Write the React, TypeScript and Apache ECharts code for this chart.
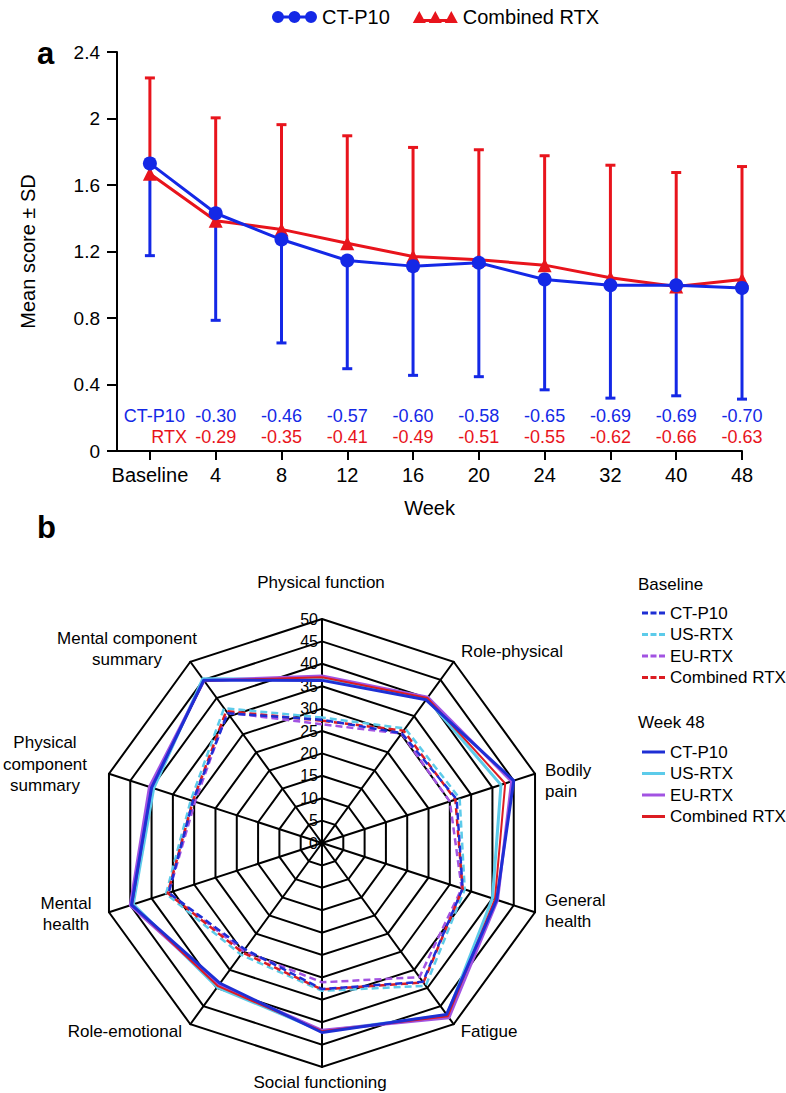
import React, { useEffect, useRef } from 'react';
import * as echarts from 'echarts';

// ---------- Panel a data ----------
const weeks = ['Baseline', '4', '8', '12', '16', '20', '24', '32', '40', '48'];
const ctMean = [1.73, 1.43, 1.272, 1.146, 1.112, 1.132, 1.032, 0.997, 0.997, 0.981];
const ctLower = [1.175, 0.786, 0.65, 0.495, 0.455, 0.447, 0.368, 0.318, 0.332, 0.312];
const rtxMean = [1.668, 1.385, 1.333, 1.25, 1.17, 1.15, 1.118, 1.042, 0.99, 1.032];
const rtxUpper = [2.244, 2.004, 1.963, 1.896, 1.826, 1.812, 1.776, 1.719, 1.675, 1.711];
const ctChange = ['-0.30', '-0.46', '-0.57', '-0.60', '-0.58', '-0.65', '-0.69', '-0.69', '-0.70'];
const rtxChange = ['-0.29', '-0.35', '-0.41', '-0.49', '-0.51', '-0.55', '-0.62', '-0.66', '-0.63'];

// ---------- Panel b data (clockwise from top) ----------
const domains = [
  'Physical function', 'Role-physical', 'Bodily\npain', 'General\nhealth', 'Fatigue',
  'Social functioning', 'Role-emotional', 'Mental\nhealth', 'Physical\ncomponent\nsummary',
  'Mental component\nsummary',
];
const baseCT = [27.5, 30.3, 31.6, 33.0, 38.3, 32.6, 29.3, 36.0, 30.3, 35.8];
const baseUS = [28.0, 31.6, 32.3, 33.5, 39.4, 33.0, 30.8, 36.6, 30.8, 37.2];
const baseEU = [26.5, 30.2, 30.0, 32.8, 37.0, 31.1, 29.8, 36.0, 29.8, 36.0];
const baseComb = [27.3, 31.0, 31.3, 33.0, 38.5, 32.7, 30.2, 36.2, 30.3, 36.4];
const w48CT = [36.3, 39.5, 45.0, 41.0, 47.3, 42.3, 38.7, 44.7, 40.0, 44.9];
const w48US = [36.5, 39.8, 42.0, 40.0, 47.5, 42.0, 39.8, 44.3, 39.5, 45.3];
const w48EU = [37.3, 40.2, 44.5, 41.2, 48.2, 41.8, 39.2, 45.0, 40.5, 44.8];
const w48Comb = [37.0, 40.0, 43.0, 40.6, 47.8, 42.0, 39.5, 44.6, 40.0, 44.8];
const groupNames = ['CT-P10', 'US-RTX', 'EU-RTX', 'Combined RTX'];

const FONT = 'Liberation Sans, Arial, Helvetica, sans-serif';
const BLUE = '#1428e6';
const RED = '#e8141c';
const R_BLUE = '#1e2fd4';
const R_CYAN = '#5ccbea';
const R_PURPLE = '#a253e2';
const R_RED = '#dc1c22';
const CT_ROW = 0.213;
const RTX_ROW = 0.086;

const BLUE_ICON =
  'path://M0,6A6,6 0 1,1 12,6A6,6 0 1,1 0,6Z M16.5,6A6,6 0 1,1 28.5,6A6,6 0 1,1 16.5,6Z M33,6A6,6 0 1,1 45,6A6,6 0 1,1 33,6Z M6,4.5H39V7.5H6Z';
const RED_ICON =
  'path://M0,12L6.5,0L13,12Z M16,12L22.5,0L29,12Z M32,12L38.5,0L45,12Z M6,8H39V11H6Z';
const DASH_ICON = 'path://M0,0H6V3H0Z M8.5,0H14.5V3H8.5Z M17,0H23V3H17Z';
const SOLID_ICON = 'path://M0,0H23V3H0Z';

// clockwise -> ECharts counter-clockwise order
const toCCW = (a: any[]) => [a[0], ...a.slice(1).reverse()];

function errRender(color: string) {
  return (params: any, api: any) => {
    const x = api.value(0);
    const a = api.coord([x, api.value(1)]);
    const b = api.coord([x, api.value(2)]);
    return {
      type: 'group',
      children: [
        { type: 'line', shape: { x1: a[0], y1: a[1], x2: b[0], y2: b[1] }, style: { stroke: color, lineWidth: 3 } },
        { type: 'line', shape: { x1: b[0] - 5, y1: b[1], x2: b[0] + 5, y2: b[1] }, style: { stroke: color, lineWidth: 3 } },
      ],
    };
  };
}

export default function App() {
  const ref = useRef<HTMLDivElement>(null);
  useEffect(() => {
    if (!ref.current) return;
    const chart = echarts.init(ref.current, undefined, { renderer: 'svg' });
    const xs = weeks.map((_, i) => i + 0.5);

    const radarColors = [R_BLUE, R_CYAN, R_PURPLE, R_RED];
    const baseSets = [baseCT, baseUS, baseEU, baseComb];
    const w48Sets = [w48CT, w48US, w48EU, w48Comb];
    const drawOrder = [1, 2, 3, 0];
    const radarData: any[] = [];
    drawOrder.forEach((g) => {
      radarData.push({
        name: 'Baseline|' + groupNames[g],
        value: toCCW(baseSets[g]),
        lineStyle: { color: radarColors[g], width: 2.5, type: [7, 4] },
        itemStyle: { color: radarColors[g] },
      });
    });
    drawOrder.forEach((g) => {
      radarData.push({
        name: 'Week 48|' + groupNames[g],
        value: toCCW(w48Sets[g]),
        lineStyle: { color: radarColors[g], width: g === 3 ? 2 : 3, type: 'solid' },
        itemStyle: { color: radarColors[g] },
      });
    });

    const nameLabels = [
      { i: 0, x: 321, y: 582, align: 'center' },
      { i: 1, x: 512, y: 651, align: 'center' },
      { i: 2, x: 545, y: 781, align: 'left' },
      { i: 3, x: 545, y: 911, align: 'left' },
      { i: 4, x: 489, y: 1031, align: 'center' },
      { i: 5, x: 320, y: 1082, align: 'center' },
      { i: 6, x: 182, y: 1031, align: 'right' },
      { i: 7, x: 66, y: 914, align: 'center' },
      { i: 8, x: 45, y: 764, align: 'center' },
      { i: 9, x: 127, y: 649, align: 'center' },
    ];

    const txt = (text: string, x: number, y: number, size: number, align: string, weight = 'normal') => ({
      type: 'text',
      x,
      y,
      silent: true,
      style: {
        text,
        fill: '#000',
        fontSize: size,
        fontFamily: FONT,
        fontWeight: weight,
        align,
        verticalAlign: 'middle',
        lineHeight: 21.5,
      },
    });

    const rowLabel = (color: string, extra: any = {}) => ({
      show: true,
      position: 'inside',
      formatter: (p: any) => p.value[2],
      fontSize: 18,
      color,
      opacity: 1,
      textBorderWidth: 0,
      textBorderColor: 'transparent',
      fontFamily: FONT,
      ...extra,
    });

    const option: any = {
      animation: false,
      textStyle: { fontFamily: FONT, color: '#000' },
      legend: [
        {
          left: 267,
          top: 2,
          itemWidth: 45,
          itemHeight: 12,
          itemGap: 23,
          textStyle: { fontSize: 20, color: '#000', fontFamily: FONT },
          data: [
            { name: 'CT-P10', icon: BLUE_ICON },
            { name: 'Combined RTX', icon: RED_ICON },
          ],
        },
        {
          left: 637,
          top: 599.5,
          orient: 'vertical',
          itemWidth: 23,
          itemHeight: 3,
          itemGap: 4.5,
          textStyle: { fontSize: 17, lineHeight: 17, color: '#000', fontFamily: FONT },
          formatter: (n: string) => n.split('|')[1],
          data: groupNames.map((g) => ({ name: 'Baseline|' + g, icon: DASH_ICON })),
        },
        {
          left: 637,
          top: 738.5,
          orient: 'vertical',
          itemWidth: 23,
          itemHeight: 3,
          itemGap: 4.5,
          textStyle: { fontSize: 17, lineHeight: 17, color: '#000', fontFamily: FONT },
          formatter: (n: string) => n.split('|')[1],
          data: groupNames.map((g) => ({ name: 'Week 48|' + g, icon: SOLID_ICON })),
        },
      ],
      grid: [
        { left: 117, top: 52, width: 625, height: 399 },
        { left: 322, top: 619, width: 1, height: 224 },
      ],
      xAxis: [
        {
          type: 'value',
          gridIndex: 0,
          min: 0,
          max: 9.5,
          splitLine: { show: false },
          axisLine: { lineStyle: { color: '#000', width: 2 } },
          axisTick: { show: true, length: 9, lineStyle: { color: '#000', width: 2 }, customValues: xs },
          axisLabel: {
            customValues: xs,
            formatter: (v: number) => weeks[Math.round(v - 0.5)] ?? '',
            fontSize: 20,
            color: '#000',
            margin: 14,
            fontFamily: FONT,
          },
          name: 'Week',
          nameLocation: 'middle',
          nameGap: 47,
          nameTextStyle: { fontSize: 20, color: '#000', fontFamily: FONT },
        },
        { type: 'value', gridIndex: 1, show: false, min: 0, max: 1 },
      ],
      yAxis: [
        {
          type: 'value',
          gridIndex: 0,
          min: 0,
          max: 2.4,
          interval: 0.4,
          splitLine: { show: false },
          axisLine: { show: true, lineStyle: { color: '#000', width: 2 } },
          axisTick: { show: true, length: 10, lineStyle: { color: '#000', width: 2 } },
          axisLabel: { fontSize: 19, color: '#000', margin: 17, fontFamily: FONT },
          name: 'Mean score ± SD',
          nameLocation: 'middle',
          nameGap: 79,
          nameTextStyle: { fontSize: 20, color: '#000', fontFamily: FONT },
        },
        {
          type: 'value',
          gridIndex: 1,
          min: 0,
          max: 50,
          interval: 5,
          splitLine: { show: false },
          axisLine: { show: false },
          axisTick: { show: false },
          axisLabel: {
            fontSize: 16,
            color: '#000',
            margin: 4,
            fontFamily: FONT,
            verticalAlign: 'middle',
            padding: [0, 0, 12, 0],
          },
        },
      ],
      radar: {
        center: [322, 843],
        radius: 224,
        shape: 'polygon',
        splitNumber: 10,
        startAngle: 90,
        indicator: toCCW(domains).map((d: string) => ({ name: d, min: 0, max: 50 })),
        axisName: { show: false },
        axisLine: { lineStyle: { color: '#000', width: 2 } },
        splitLine: { lineStyle: { color: '#000', width: 2 } },
        splitArea: { show: false },
        axisTick: { show: false },
        axisLabel: { show: false },
      },
      series: [
        {
          type: 'custom',
          name: 'CT-P10 SD',
          xAxisIndex: 0,
          yAxisIndex: 0,
          renderItem: errRender(BLUE),
          data: xs.map((x, i) => [x, ctMean[i], ctLower[i]]),
          encode: { x: 0, y: [1, 2] },
          z: 2,
          silent: true,
        },
        {
          type: 'custom',
          name: 'RTX SD',
          xAxisIndex: 0,
          yAxisIndex: 0,
          renderItem: errRender(RED),
          data: xs.map((x, i) => [x, rtxMean[i], rtxUpper[i]]),
          encode: { x: 0, y: [1, 2] },
          z: 2,
          silent: true,
        },
        {
          type: 'line',
          name: 'Combined RTX',
          xAxisIndex: 0,
          yAxisIndex: 0,
          data: xs.map((x, i) => [x, rtxMean[i]]),
          symbol: 'triangle',
          symbolSize: 14,
          lineStyle: { color: RED, width: 3 },
          itemStyle: { color: RED },
          z: 3,
        },
        {
          type: 'line',
          name: 'CT-P10',
          xAxisIndex: 0,
          yAxisIndex: 0,
          data: xs.map((x, i) => [x, ctMean[i]]),
          symbol: 'circle',
          symbolSize: 14,
          lineStyle: { color: BLUE, width: 3 },
          itemStyle: { color: BLUE },
          z: 4,
        },
        {
          type: 'scatter',
          xAxisIndex: 0,
          yAxisIndex: 0,
          symbolSize: 1,
          itemStyle: { color: 'rgba(0,0,0,0)' },
          silent: true,
          data: ctChange.map((t, i) => [xs[i + 1], CT_ROW, t]),
          label: rowLabel(BLUE),
        },
        {
          type: 'scatter',
          xAxisIndex: 0,
          yAxisIndex: 0,
          symbolSize: 1,
          itemStyle: { color: 'rgba(0,0,0,0)' },
          silent: true,
          data: rtxChange.map((t, i) => [xs[i + 1], RTX_ROW, t]),
          label: rowLabel(RED),
        },
        {
          type: 'scatter',
          xAxisIndex: 0,
          yAxisIndex: 0,
          symbolSize: 1,
          itemStyle: { color: 'rgba(0,0,0,0)' },
          silent: true,
          data: [[xs[0], CT_ROW, 'CT-P10']],
          label: rowLabel(BLUE, { align: 'right', offset: [35, 0] }),
        },
        {
          type: 'scatter',
          xAxisIndex: 0,
          yAxisIndex: 0,
          symbolSize: 1,
          itemStyle: { color: 'rgba(0,0,0,0)' },
          silent: true,
          data: [[xs[0], RTX_ROW, 'RTX']],
          label: rowLabel(RED, { align: 'right', offset: [37, 0] }),
        },
        {
          type: 'radar',
          name: 'SF-36',
          symbol: 'none',
          data: radarData,
          z: 3,
        },
      ],
      graphic: [
        txt('a', 37, 53, 31, 'left', 'bold'),
        txt('b', 37, 527, 31, 'left', 'bold'),
        txt('Baseline', 638, 584, 17, 'left'),
        txt('Week 48', 638, 722, 17, 'left'),
        ...nameLabels.map((n) => txt(domains[n.i], n.x, n.y, 17, n.align)),
      ],
    };
    chart.setOption(option);
    return () => chart.dispose();
  }, []);
  return <div ref={ref} style={{ position: 'absolute', left: 0, top: 0, width: 786, height: 1093 }} />;
}
